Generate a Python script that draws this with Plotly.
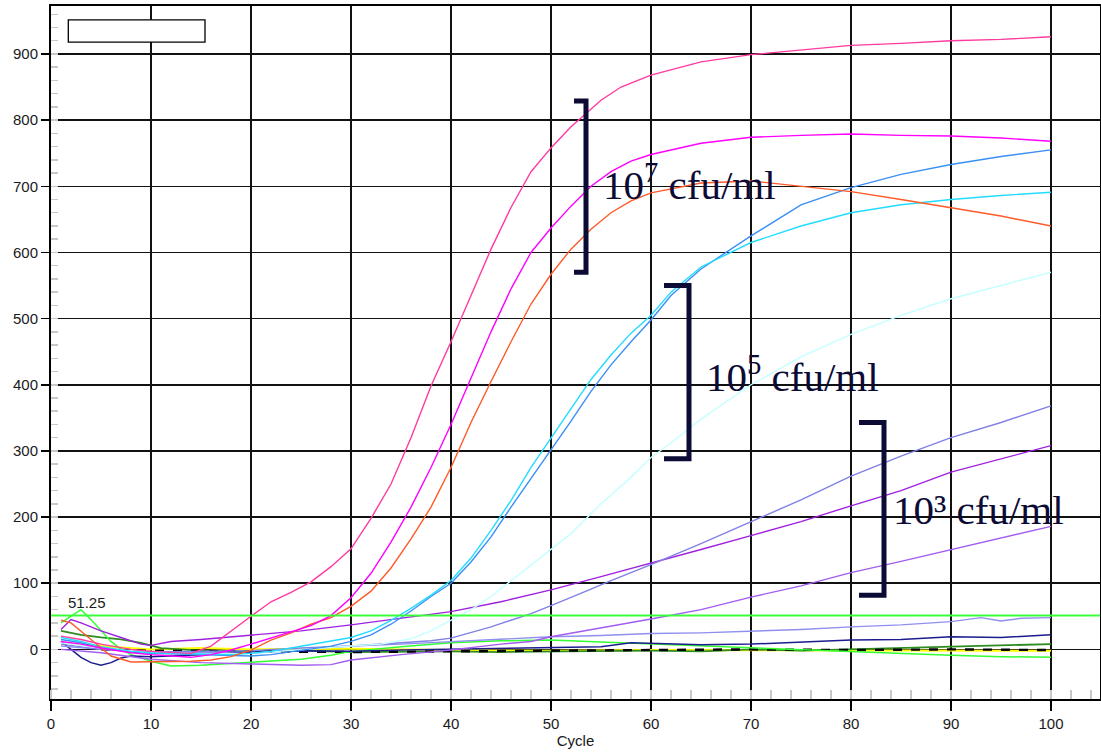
import plotly.graph_objects as go

# ---------------- data ----------------
threshold = 51.25

pink_x = [1, 3, 5, 8, 10, 12, 14, 16, 18, 20, 22, 24, 26, 28, 30, 32, 34, 36, 38, 40, 42, 44, 46, 48, 50, 52, 55, 57, 60, 65, 70, 75, 80, 85, 90, 95, 100]
pink_y = [20, 15, 8, 0, -3, -5, -6, 5, 28, 50, 72, 86, 102, 125, 152, 198, 250, 320, 398, 465, 535, 605, 668, 722, 758, 790, 830, 850, 868, 888, 899, 906, 913, 916, 920, 922, 926]

magenta_x = [1, 3, 5, 8, 10, 12, 14, 16, 18, 20, 22, 24, 26, 28, 30, 32, 34, 36, 38, 40, 42, 44, 46, 48, 50, 52, 54, 56, 58, 60, 65, 70, 75, 80, 85, 90, 95, 100]
magenta_y = [12, 8, 2, -5, -8, -10, -12, -8, -1, 8, 17, 26, 36, 51, 78, 115, 162, 215, 275, 340, 410, 480, 545, 600, 637, 670, 700, 722, 738, 748, 765, 774, 777, 779, 777, 776, 773, 768]

orange_x = [1, 2, 4, 6, 8, 10, 12, 14, 16, 18, 20, 22, 24, 26, 28, 30, 32, 34, 36, 38, 40, 42, 44, 46, 48, 50, 52, 54, 56, 58, 60, 65, 70, 75, 80, 85, 90, 95, 100]
orange_y = [44, 40, 15, -10, -19, -19, -19, -18, -16, -11, -1, 14, 25, 38, 48, 65, 88, 123, 167, 215, 275, 343, 405, 465, 522, 567, 605, 635, 660, 678, 690, 705, 708, 700, 692, 680, 668, 655, 640]

blue_x = [1, 3, 5, 8, 10, 14, 18, 20, 22, 24, 26, 28, 30, 32, 34, 36, 38, 40, 42, 44, 46, 48, 50, 52, 54, 56, 58, 60, 62, 65, 70, 75, 80, 85, 90, 95, 100]
blue_y = [15, 10, 2, -4, -6, -8, -10, -10, -8, -4, 0, 5, 12, 22, 38, 58, 80, 100, 132, 170, 215, 258, 302, 345, 390, 430, 465, 498, 535, 575, 625, 672, 698, 718, 733, 745, 755]

cyan_x = [1, 3, 5, 8, 10, 14, 18, 20, 22, 24, 26, 28, 30, 32, 34, 36, 38, 40, 42, 44, 46, 48, 50, 52, 54, 56, 58, 60, 62, 65, 70, 75, 80, 85, 90, 95, 100]
cyan_y = [18, 12, 4, -3, -5, -7, -8, -6, -3, 2, 7, 12, 18, 28, 44, 62, 82, 104, 138, 180, 225, 275, 320, 365, 408, 445, 478, 505, 540, 578, 615, 640, 660, 672, 680, 686, 691]

paleblue_x = [1, 5, 10, 15, 20, 25, 30, 33, 36, 38, 40, 42, 44, 46, 48, 50, 52, 55, 58, 60, 62, 65, 70, 75, 80, 85, 90, 95, 100]
paleblue_y = [10, 2, -5, -7, -6, 0, 5, 8, 16, 28, 44, 60, 80, 104, 128, 152, 175, 220, 260, 290, 312, 348, 400, 442, 476, 505, 530, 550, 570]

slate_x = [1, 5, 10, 15, 20, 25, 30, 35, 38, 40, 42, 44, 46, 48, 50, 52, 54, 56, 58, 60, 65, 70, 75, 80, 85, 90, 95, 100]
slate_y = [8, 0, -4, -3, -2, 2, 5, 10, 13, 17, 25, 34, 44, 54, 66, 78, 91, 104, 116, 128, 160, 193, 226, 262, 292, 320, 343, 368]

purple_x = [1, 2, 3, 5, 7, 9, 10, 12, 15, 20, 25, 30, 35, 40, 45, 50, 55, 60, 65, 70, 75, 80, 85, 90, 95, 100]
purple_y = [30, 45, 40, 28, 18, 8, 6, 12, 15, 22, 28, 37, 47, 57, 72, 90, 110, 130, 151, 172, 193, 217, 240, 268, 288, 308]

violet_x = [1, 5, 10, 15, 20, 25, 28, 30, 35, 40, 45, 48, 50, 55, 60, 65, 70, 75, 78, 80, 85, 90, 95, 100]
violet_y = [0, -5, -15, -20, -22, -24, -23, -16, -8, -1, 8, 12, 19, 32, 46, 60, 79, 96, 108, 116, 133, 151, 168, 186]

lavender_x = [1, 5, 10, 15, 20, 25, 30, 35, 40, 45, 50, 55, 60, 65, 70, 75, 80, 85, 90, 93, 95, 97, 100]
lavender_y = [5, 0, -3, -5, -6, 0, 5, 8, 12, 15, 19, 21, 24, 25, 27, 30, 34, 37, 42, 48, 43, 47, 48]

navy_x = [1, 2, 3, 4, 5, 6, 7, 8, 10, 15, 20, 25, 30, 35, 40, 45, 50, 55, 58, 60, 65, 70, 75, 80, 85, 90, 95, 100]
navy_y = [12, 0, -12, -20, -24, -20, -13, -10, -11, -8, -4, -2, -3, -1, 0, 2, 3, 4, 10, 9, 7, 8, 11, 14, 15, 19, 18, 22]

lime_x = [1, 2, 3, 4, 5, 6, 7, 8, 10, 12, 15, 20, 25, 28, 30, 35, 40, 45, 50, 55, 60, 65, 70, 75, 80, 85, 90, 95, 100]
lime_y = [40, 50, 60, 45, 28, 12, 0, -8, -18, -25, -24, -20, -15, -9, -3, 4, 10, 13, 14, 11, 8, 6, 3, 0, -4, -7, -9, -11, -12]

darkgreen_x = [1, 3, 5, 7, 9, 11, 13, 15, 20, 25, 30, 35, 40, 45, 50, 55, 60, 65, 70, 75, 80, 85, 90, 95, 100]
darkgreen_y = [28, 22, 18, 15, 10, 2, 0, -2, -3, -2, -4, -3, -3, -4, -3, -3, -2, -3, 0, -2, 0, 2, 3, 5, 8]

yellow_x = [1, 5, 10, 15, 20, 30, 40, 50, 60, 70, 80, 90, 100]
yellow_y = [10, 5, 0, 2, 0, 1, -1, -2, -1, -1, -2, -1, -2]

black_x = [5, 10, 20, 30, 40, 50, 60, 70, 80, 90, 100]
black_y = [0, -2, -3, -4, -3, -2, 0, 0, -1, 0, -1]

x_ticks = [0, 10, 20, 30, 40, 50, 60, 70, 80, 90, 100]
y_ticks = [0, 100, 200, 300, 400, 500, 600, 700, 800, 900]

group_labels = ["10<sup>7</sup> cfu/ml", "10<sup>5</sup> cfu/ml", "10³ cfu/ml"]

# ---------------- figure ----------------
series = [
    (yellow_x, yellow_y, "#ffff00", 2.0, "solid"),
    (darkgreen_x, darkgreen_y, "#2e8b22", 1.8, "solid"),
    (black_x, black_y, "#000000", 2.4, "dash"),
    (lime_x, lime_y, "#33ff33", 1.5, "solid"),
    (navy_x, navy_y, "#1c1c8c", 1.5, "solid"),
    (lavender_x, lavender_y, "#8f8fef", 1.4, "solid"),
    (violet_x, violet_y, "#a35cf0", 1.4, "solid"),
    (purple_x, purple_y, "#a020e0", 1.4, "solid"),
    (slate_x, slate_y, "#8080e8", 1.4, "solid"),
    (paleblue_x, paleblue_y, "#c6ffff", 1.4, "solid"),
    (blue_x, blue_y, "#3a8ff5", 1.4, "solid"),
    (cyan_x, cyan_y, "#22dcff", 1.4, "solid"),
    (orange_x, orange_y, "#ff5a28", 1.4, "solid"),
    (magenta_x, magenta_y, "#ff00ff", 1.4, "solid"),
    (pink_x, pink_y, "#ff3aa0", 1.4, "solid"),
]

fig = go.Figure()
for xs, ys, col, w, dash in series:
    fig.add_trace(go.Scatter(x=xs, y=ys, mode="lines",
                             line=dict(color=col, width=w, dash=dash),
                             hoverinfo="skip", showlegend=False))

# threshold line
fig.add_hline(y=threshold, line=dict(color="#3cff3c", width=2), layer="above")
fig.add_annotation(x=1.5, y=threshold, text=f"{threshold:.2f}", showarrow=False,
                   xanchor="left", yanchor="bottom", yshift=2,
                   font=dict(family="Liberation Sans, Arial", size=15, color="#1a1a1a"))

# brackets
bcol = "#0b0b35"
brackets = [(52.3, 53.5, 829, 570), (61.3, 63.8, 550, 288), (80.8, 83.3, 343, 82)]
for x0, x1, yt, yb in brackets:
    fig.add_shape(type="path", path=f"M {x0},{yt} L {x1},{yt} L {x1},{yb} L {x0},{yb}",
                  line=dict(color=bcol, width=5), layer="above")

label_pos = [(55.0, 706), (65.3, 416), (84.0, 210)]
for (lx, ly), txt in zip(label_pos, group_labels):
    fig.add_annotation(x=lx, y=ly, text=txt, showarrow=False, xanchor="left", yanchor="middle",
                       font=dict(family="Liberation Serif, Times New Roman", size=41, color=bcol))

# empty legend box
fig.add_shape(type="rect", xref="paper", yref="paper", x0=0.0165, x1=0.1468, y0=0.948, y1=0.980,
              line=dict(color="#000000", width=1.3), fillcolor="white", layer="above")

axis_font = dict(family="Liberation Sans, Arial", size=15, color="#1a1a1a")
fig.update_layout(
    width=1101, height=752,
    margin=dict(l=51, r=1, t=6, b=53),
    paper_bgcolor="white", plot_bgcolor="white",
    showlegend=False,
    xaxis=dict(range=[0, 104.9], tickvals=x_ticks, ticks="outside", ticklen=10, tickwidth=1.5,
               tickcolor="#000", showgrid=True, gridcolor="#111", gridwidth=1.5, zeroline=False,
               showline=True, linecolor="#000", linewidth=2, mirror=True, tickfont=axis_font,
               automargin=False,
               title=dict(text="Cycle", font=axis_font, standoff=2),
               minor=dict(dtick=2, ticks="inside", ticklen=9, tickcolor="#c8c8c8", tickwidth=1.5,
                          showgrid=False)),
    yaxis=dict(range=[-75, 972.5], tickvals=y_ticks, ticks="outside", ticklen=8, tickwidth=1.5,
               tickcolor="#000", showgrid=True, gridcolor="#111", gridwidth=1.5, zeroline=False,
               showline=True, linecolor="#000", linewidth=2, mirror=True, tickfont=axis_font,
               automargin=False,
               minor=dict(dtick=20, ticks="inside", ticklen=7, tickcolor="#c8c8c8", tickwidth=1.5,
                          showgrid=False)),
)

fig.write_html("out.html", config={"displayModeBar": False, "staticPlot": True},
               post_script="document.body.style.margin='0';document.body.style.overflow='hidden';")
